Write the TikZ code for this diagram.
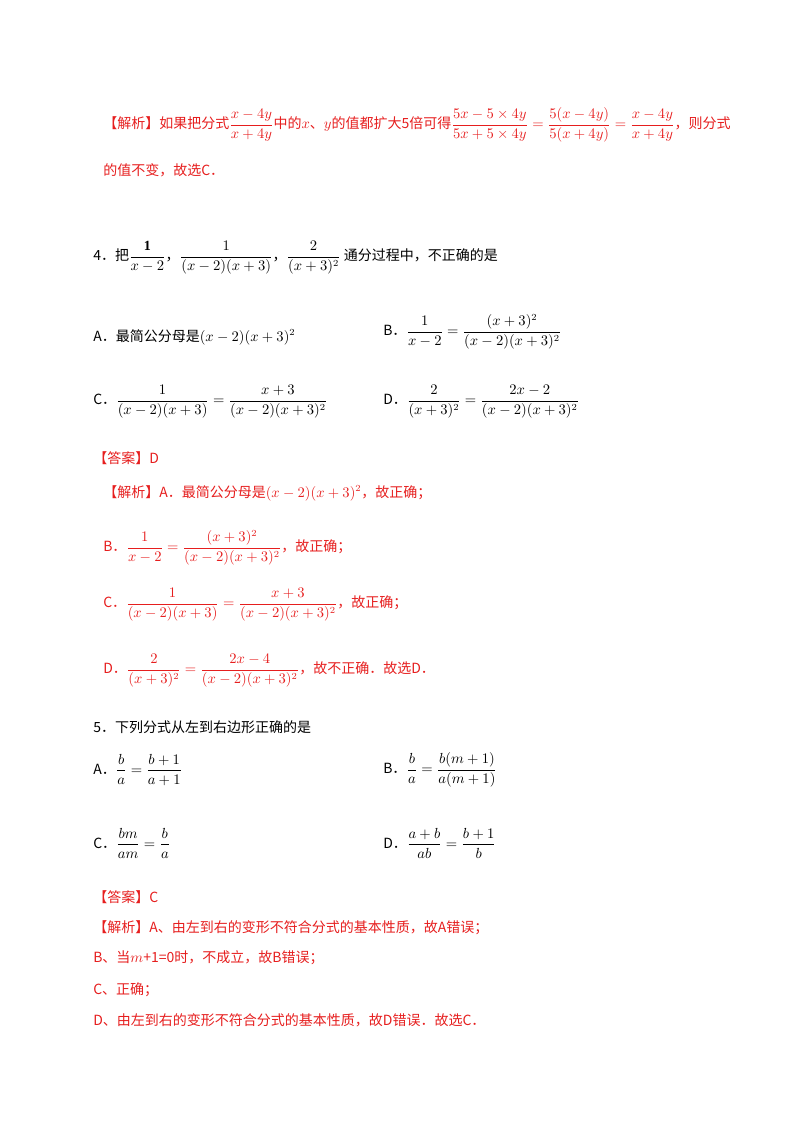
\documentclass[tikz,border=0pt]{standalone}
\usepackage{amsmath}
\usepackage{fontspec}
\setmainfont{Liberation Serif}
\newfontfamily\cjk{Noto Sans CJK SC}
\definecolor{ansred}{RGB}{230,30,30}
\begin{document}
\begin{tikzpicture}[x=0.75pt,y=-0.75pt,
  txt/.style={anchor=west,inner sep=0pt,font=\cjk\fontsize{10.5pt}{12pt}\selectfont},
  red/.style={txt,text=ansred}]
\useasboundingbox (0,0) rectangle (800,1132);
\node[red] (l1) at (103,125) {【解析】如果把分式$\dfrac{x-4y}{x+4y}$中的$x$、$y$的值都扩大5倍可得$\dfrac{5x-5\times4y}{5x+5\times4y}=\dfrac{5(x-4y)}{5(x+4y)}=\dfrac{x-4y}{x+4y}$，则分式};
\node[red] (l2) at (103,170) {的值不变，故选C．};
\node[txt] (q4) at (93,258) {4．把$\dfrac{\mathbf 1}{x-2}$，$\dfrac{1}{(x-2)(x+3)}$，$\dfrac{2}{(x+3)^2}$ 通分过程中，不正确的是};
\node[txt] (a4) at (93,337) {A．最简公分母是$(x-2)(x+3)^2$};
\node[txt] (b4) at (383,332) {B．$\dfrac{1}{x-2}=\dfrac{(x+3)^2}{(x-2)(x+3)^2}$};
\node[txt] (c4) at (93,402) {C．$\dfrac{1}{(x-2)(x+3)}=\dfrac{x+3}{(x-2)(x+3)^2}$};
\node[txt] (d4) at (383,402) {D．$\dfrac{2}{(x+3)^2}=\dfrac{2x-2}{(x-2)(x+3)^2}$};
\node[red] (ans4) at (93,458) {【答案】D};
\node[red] (j4a) at (103,493) {【解析】A．最简公分母是$(x-2)(x+3)^2$，故正确；};
\node[red] (j4b) at (103,548) {B．$\dfrac{1}{x-2}=\dfrac{(x+3)^2}{(x-2)(x+3)^2}$，故正确；};
\node[red] (j4c) at (103,605) {C．$\dfrac{1}{(x-2)(x+3)}=\dfrac{x+3}{(x-2)(x+3)^2}$，故正确；};
\node[red] (j4d) at (103,671) {D．$\dfrac{2}{(x+3)^2}=\dfrac{2x-4}{(x-2)(x+3)^2}$，故不正确．故选D．};
\node[txt] (q5) at (93,727) {5．下列分式从左到右边形正确的是};
\node[txt] (a5) at (93,770) {A．$\dfrac{b}{a}=\dfrac{b+1}{a+1}$};
\node[txt] (b5) at (383,770) {B．$\dfrac{b}{a}=\dfrac{b(m+1)}{a(m+1)}$};
\node[txt] (c5) at (93,843) {C．$\dfrac{bm}{am}=\dfrac{b}{a}$};
\node[txt] (d5) at (383,843) {D．$\dfrac{a+b}{ab}=\dfrac{b+1}{b}$};
\node[red] (ans5) at (93,897) {【答案】C};
\node[red] (j5a) at (93,928) {【解析】A、由左到右的变形不符合分式的基本性质，故A错误；};
\node[red] (j5b) at (93,958) {B、当$m$+1=0时，不成立，故B错误；};
\node[red] (j5c) at (93,990) {C、正确；};
\node[red] (j5d) at (93,1020) {D、由左到右的变形不符合分式的基本性质，故D错误．故选C．};
\end{tikzpicture}
\end{document}
